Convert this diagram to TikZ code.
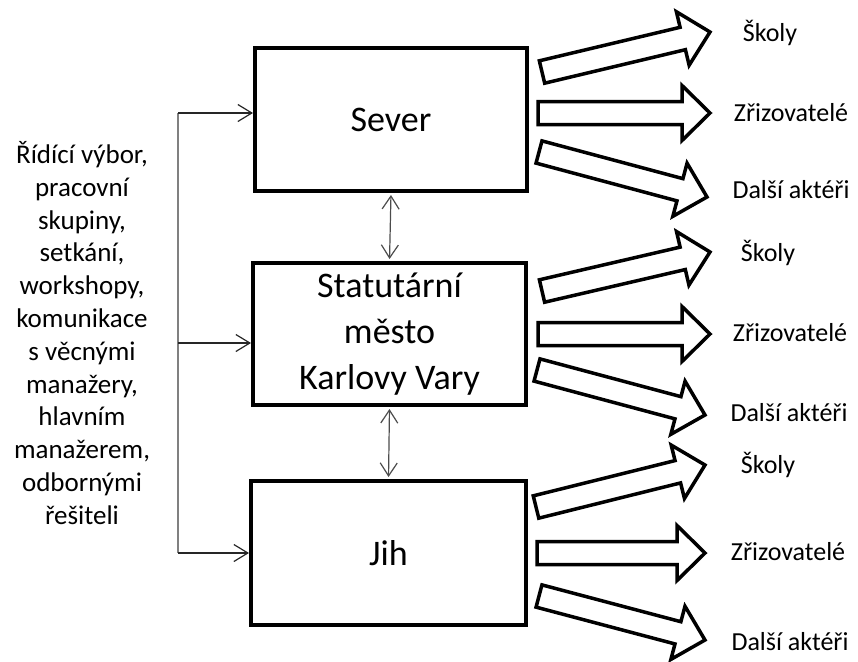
\documentclass[tikz,border=0pt]{standalone}
\usepackage{fontspec}
\setmainfont{Carlito}
\usetikzlibrary{arrows.meta,calc}

% outlined block arrow from #1 (tail) to #2 (tip)
\newcommand\blockarrow[2]{%
  \draw[blockline] let \p1=($(#2)-(#1)$), \n1={atan2(\y1,\x1)}, \n2={veclen(\x1,\y1)} in
    [shift={(#1)}, rotate=\n1] (0,-11.5) -- (\n2-28,-11.5) -- (\n2-28,-27.5) -- (\n2,0)
    -- (\n2-28,27.5) -- (\n2-28,11.5) -- (0,11.5) -- cycle;}

\begin{document}
\begin{tikzpicture}[x=1pt, y=-1pt,
    box/.style={draw, line width=4pt, inner sep=0pt, align=center,
      font=\fontsize{36}{46}\selectfont},
    lbl/.style={font=\fontsize{26}{30}\selectfont},
    blockline/.style={line width=3.5pt, line join=miter},
    feed/.style={-{Straight Barb[length=14pt,width=17pt]}, line width=1.2pt, black!85},
    dbl/.style={{Straight Barb[length=13pt,width=17pt]}-{Straight Barb[length=13pt,width=17pt]},
      line width=1.2pt, black!70, shorten <=2pt, shorten >=2pt}]
  \useasboundingbox (0,0) rectangle (858,661);

  % regions
  \node[box, minimum width=272pt, minimum height=143pt] (sever) at (391,119.5) {Sever};
  \node[box, minimum width=273pt, minimum height=142pt] (kv) at (389.5,334)
    {Statutární\\město\\Karlovy Vary};
  \node[box, minimum width=275pt, minimum height=144pt] (jih) at (388.5,553) {Jih};

  % cooperation forms
  \node[align=center, font=\fontsize{27}{32.8}\selectfont] (forms) at (82,333)
    {Řídící výbor,\\pracovní\\skupiny,\\setkání,\\workshopy,\\komunikace\\s věcnými\\manažery,\\hlavním\\manažerem,\\odbornými\\řešiteli};

  \coordinate (bustop) at (178,113);
  \coordinate (busmid) at (178,343);
  \coordinate (busbot) at (178,553);
  \draw[line width=1.2pt, black!50] (bustop) -- (busbot);
  \draw[feed] (bustop) -- (bustop -| sever.west);
  \draw[feed] (busmid) -- (busmid -| kv.west);
  \draw[feed] (busbot) -- (busbot -| jih.west);

  \draw[dbl] (sever.south) -- (kv.north);
  \draw[dbl] (kv.south) -- (jih.north);

  % targets
  \node[lbl] (skoly1) at (770,33) {Školy};
  \node[lbl] (zriz1) at (791,113) {Zřizovatelé};
  \node[lbl] (dalsi1) at (791,190) {Další aktéři};
  \node[lbl] (skoly2) at (768,253) {Školy};
  \node[lbl] (zriz2) at (790,333) {Zřizovatelé};
  \node[lbl] (dalsi2) at (789,413) {Další aktéři};
  \node[lbl] (skoly3) at (768,465) {Školy};
  \node[lbl] (zriz3) at (788,552) {Zřizovatelé};
  \node[lbl] (dalsi3) at (790,642) {Další aktéři};

  \coordinate (t1a) at (542,72);  \coordinate (h1a) at (710,32);
  \coordinate (t1b) at (538,113); \coordinate (h1b) at (710,113);
  \coordinate (t1c) at (539,152); \coordinate (h1c) at (707,197);
  \coordinate (t2a) at (542,291); \coordinate (h2a) at (710,252);
  \coordinate (t2b) at (538,334); \coordinate (h2b) at (710,334);
  \coordinate (t2c) at (537,370); \coordinate (h2c) at (705,415);
  \coordinate (t3a) at (536,507); \coordinate (h3a) at (705,465);
  \coordinate (t3b) at (537,553); \coordinate (h3b) at (705,553);
  \coordinate (t3c) at (539,596); \coordinate (h3c) at (705,640);

  \blockarrow{t1a}{h1a}
  \blockarrow{t1b}{h1b}
  \blockarrow{t1c}{h1c}
  \blockarrow{t2a}{h2a}
  \blockarrow{t2b}{h2b}
  \blockarrow{t2c}{h2c}
  \blockarrow{t3a}{h3a}
  \blockarrow{t3b}{h3b}
  \blockarrow{t3c}{h3c}
\end{tikzpicture}
\end{document}
